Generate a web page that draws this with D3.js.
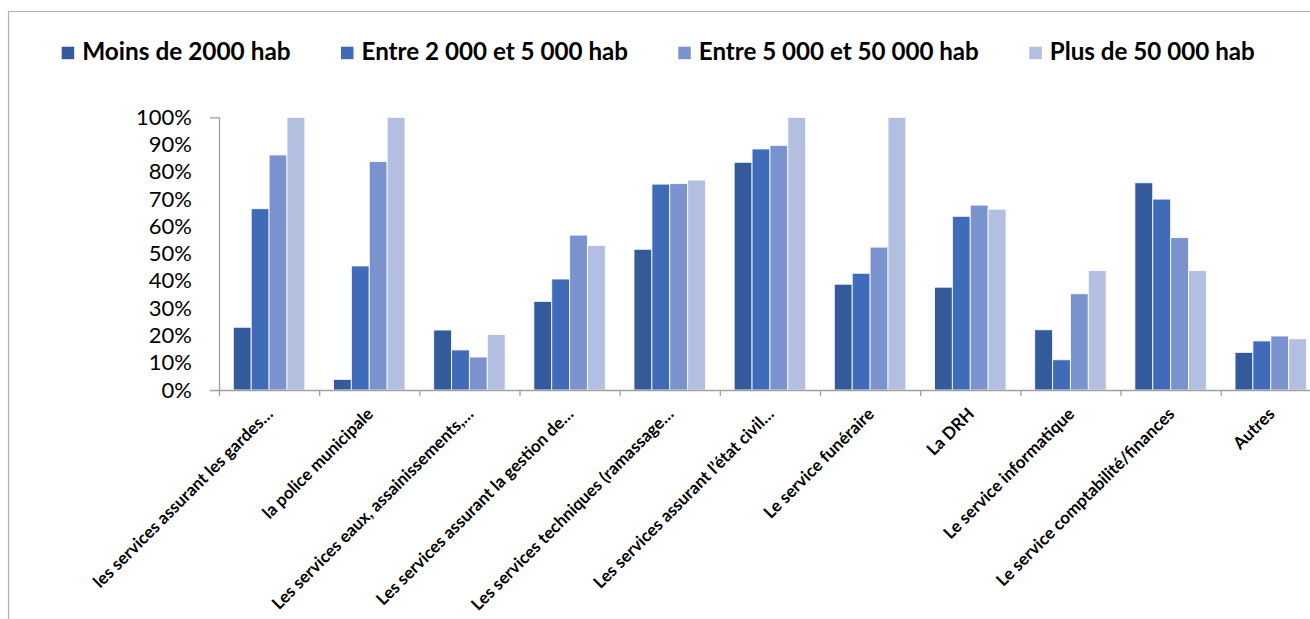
<!DOCTYPE html>
<html>
<head>
<meta charset="utf-8">
<script src="https://cdn.jsdelivr.net/npm/d3@7"></script>
<style>
  html, body { margin: 0; padding: 0; background: #fff; }
  svg { display: block; }
</style>
</head>
<body>
<svg id="chart" width="1310" height="619"></svg>
<script>
// Services concerned, by size of commune
const categories = [
  "les services assurant les gardes…",
  "la police municipale",
  "Les services eaux, assainissements,…",
  "Les services assurant la gestion de…",
  "Les services techniques (ramassage…",
  "Les services assurant l’état civil…",
  "Le service funéraire",
  "La DRH",
  "Le service informatique",
  "Le service comptabilité/finances",
  "Autres"
];

const seriesNames = [
  "Moins de 2000 hab",
  "Entre 2 000 et 5 000 hab",
  "Entre 5 000 et 50 000 hab",
  "Plus de 50 000 hab"
];

const moins2000   = [23.0, 3.9, 22.0, 32.5, 51.6, 83.5, 38.8, 37.7, 22.1, 76.0, 13.8];
const de2000a5000 = [66.5, 45.5, 14.7, 40.7, 75.5, 88.4, 42.8, 63.7, 11.1, 70.0, 18.0];
const de5000a50000 = [86.2, 83.8, 12.1, 56.8, 75.7, 89.7, 52.4, 67.8, 35.3, 55.9, 19.8];
const plus50000   = [100, 100, 20.4, 53.0, 77.0, 100, 100, 66.3, 43.8, 43.8, 18.8];

const seriesValues = [moins2000, de2000a5000, de5000a50000, plus50000];
const yTicks = [0, 10, 20, 30, 40, 50, 60, 70, 80, 90, 100];
const colors = ["#335A9B", "#3F6BB8", "#7A93CF", "#B3BFE0"];

const svg = d3.select("#chart");
const axisColor = "#a0a0a0";

// outer frame (top and left edges)
svg.append("path")
  .attr("d", "M8.5,619 V11.5 H1310")
  .attr("fill", "none")
  .attr("stroke", "#b0b0b0")
  .attr("stroke-width", 1.2);

const plot = { left: 219, top: 117.3, bottom: 390, step: 100.17 };

const x = d3.scaleBand()
  .domain(categories)
  .range([plot.left, plot.left + plot.step * categories.length])
  .paddingInner(0)
  .paddingOuter(0);

const xInner = d3.scaleBand()
  .domain(d3.range(seriesNames.length))
  .range([0, x.bandwidth()])
  .paddingOuter(0.8);

const y = d3.scaleLinear().domain([0, 100]).range([plot.bottom, plot.top]);

// bars
const groups = svg.append("g")
  .selectAll("g")
  .data(categories)
  .join("g")
  .attr("transform", d => `translate(${x(d)},0)`);

groups.selectAll("rect")
  .data((d, i) => seriesValues.map((vals, s) => ({ s, v: vals[i] })))
  .join("rect")
  .attr("x", d => xInner(d.s))
  .attr("width", xInner.bandwidth())
  .attr("y", d => y(d.v))
  .attr("height", d => y(0) - y(d.v))
  .attr("fill", d => colors[d.s])
  .attr("stroke", "#ffffff")
  .attr("stroke-opacity", 0.85)
  .attr("stroke-width", 1);

// y axis
const yAxis = svg.append("g")
  .attr("transform", `translate(${plot.left},0)`)
  .call(d3.axisLeft(y)
    .tickValues(yTicks)
    .tickFormat(d => d + "%")
    .tickSize(0)
    .tickSizeOuter(9)
    .tickPadding(27));
yAxis.select(".domain").attr("stroke", axisColor).attr("stroke-width", 1.3);
yAxis.selectAll("text")
  .attr("font-family", "Lato, 'Open Sans', sans-serif")
  .attr("font-size", 22)
  .attr("fill", "#000");

// x axis: tick marks at category boundaries
const xb = d3.scaleLinear()
  .domain([0, categories.length])
  .range([plot.left, plot.left + plot.step * categories.length]);
const xAxis = svg.append("g")
  .attr("transform", `translate(0,${plot.bottom})`)
  .call(d3.axisBottom(xb)
    .tickValues(d3.range(categories.length + 1))
    .tickFormat("")
    .tickSize(6)
    .tickSizeOuter(0));
xAxis.select(".domain").attr("stroke", axisColor).attr("stroke-width", 1.3);
xAxis.selectAll(".tick line").attr("stroke", axisColor).attr("stroke-width", 1.3);

// rotated category labels
svg.append("g")
  .selectAll("text")
  .data(categories)
  .join("text")
  .attr("transform", d => `translate(${x(d) + x.bandwidth() / 2 + 5},${plot.bottom + 25}) rotate(-45)`)
  .attr("text-anchor", "end")
  .attr("font-family", "Lato, 'Open Sans', sans-serif")
  .attr("font-weight", "bold")
  .attr("font-size", 17)
  .attr("fill", "#000")
  .text(d => d);

// legend
const legendX = [61.7, 341, 678.3, 1029.3];
const legendTextW = [208.4, 266.6, 280, 205];
const legend = svg.append("g")
  .selectAll("g")
  .data(seriesNames)
  .join("g")
  .attr("transform", (d, i) => `translate(${legendX[i]},0)`);
legend.append("rect")
  .attr("x", 0).attr("y", 46.7)
  .attr("width", 12.5).attr("height", 12.5)
  .attr("fill", (d, i) => colors[i]);
legend.append("text")
  .attr("x", 20.5).attr("y", 60)
  .attr("font-family", "Lato, 'Open Sans', sans-serif")
  .attr("font-weight", "bold")
  .attr("font-size", 24)
  .attr("textLength", (d, i) => legendTextW[i])
  .attr("lengthAdjust", "spacingAndGlyphs")
  .attr("fill", "#000")
  .text(d => d);
</script>
</body>
</html>
